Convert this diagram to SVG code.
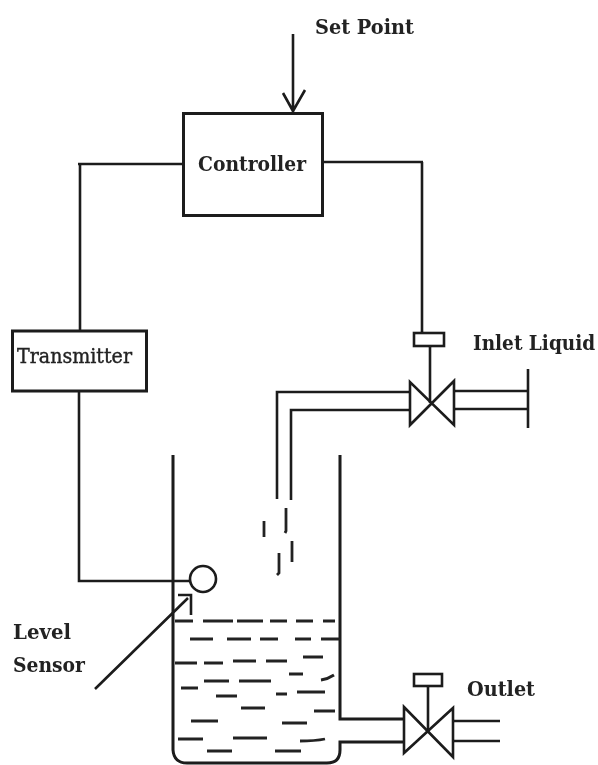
<svg xmlns="http://www.w3.org/2000/svg" width="598" height="765" viewBox="0 0 598 765">
<style>
.l{fill:none;stroke:#1a1a1a;stroke-width:2.600;stroke-linecap:butt;stroke-linejoin:miter}
.b{fill:#fff;stroke:#1a1a1a;stroke-width:3}
.d{fill:none;stroke:#222;stroke-width:2.800}
.t{font-family:"DejaVu Serif","Liberation Serif",serif;font-weight:700;fill:#222;font-size:21px}
</style>
<defs><filter id="soft" x="-2%" y="-2%" width="104%" height="104%"><feGaussianBlur stdDeviation="0.5"/></filter></defs>
<rect width="598" height="765" fill="#fff"/>
<g filter="url(#soft)">
<g id="connectors">
<path class="l" d="M293 34V112M283 93L293 111L305 90"/>
<path class="l" d="M183 164H78M80 164V331"/>
<path class="l" d="M323 162H423M422 162V332"/>
<path class="l" d="M79 391V581H191"/>
<path class="l" d="M95 689L188 598M178 595H191V615"/>
</g>
<g id="controller">
<rect class="b" x="183.500" y="113.500" width="139" height="102"/>
<text class="t" x="198" y="171" textLength="108" lengthAdjust="spacingAndGlyphs">Controller</text>
</g>
<g id="set-point"><text class="t" x="315" y="34" textLength="99" lengthAdjust="spacingAndGlyphs">Set Point</text></g>
<g id="transmitter">
<rect class="b" x="12.500" y="331" width="134" height="60"/>
<text class="t" style="font-weight:400;font-size:20px;stroke:#222;stroke-width:.4" x="17" y="363" textLength="115" lengthAdjust="spacingAndGlyphs">Transmitter</text>
</g>
<g id="level-sensor">
<circle class="l" cx="203" cy="579" r="13"/>
<text class="t" x="13" y="639" textLength="58" lengthAdjust="spacingAndGlyphs">Level</text>
<text class="t" x="13" y="672" textLength="72" lengthAdjust="spacingAndGlyphs">Sensor</text>
</g>
<g id="inlet-valve">
<path class="l" d="M277 499V392H410M291 500V410H410"/>
<path class="l" d="M454 391H527M454 409H527M528 369V428"/>
<rect class="l" x="414" y="333" width="30" height="13"/>
<path class="l" d="M430 346V403"/>
<path class="l" d="M410 382V425L454 381V425Z"/>
<text class="t" style="font-size:18.500px" transform="translate(473 350) scale(1 1.140)">Inlet Liquid</text>
</g>
<g id="tank">
<path class="l" style="stroke-width:3" d="M173 455V750Q174 763 187 763H327Q340 763 340 750V742H403M340 455V719H403"/>
</g>
<g id="liquid">
<path class="d" style="stroke-width:3.200" d="M175 621H193M203 621H233M237 621H263M270 621H287M296 621H313M323 621H335M190 639H213M227 639H251M260 639H278M295 639H311M321 639H340"/>
<path class="d" d="M175 663H197M204 663H223M233 661H256M266 661H287M303 657H323M289 674H303M321 680Q328 679 334 675M204 681H229M239 681H271M181 688H198M216 696H237M276 694H287M297 692H325M241 708H265M314 711H335M191 721H218M282 723H307M178 739H203M233 738H267M300 741Q315 741 325 739M207 751H232M275 751H301"/>
<path class="d" d="M264 521V537M286 508V531L285 533M292 541V562M279 553V573L277 575"/>
</g>
<g id="outlet-valve">
<rect class="l" x="414" y="674" width="28" height="12"/>
<path class="l" d="M428 686V732"/>
<path class="l" d="M404 707V753L453 708V757Z"/>
<path class="l" d="M453 721H500M453 741H500"/>
<text class="t" x="467" y="696" textLength="68" lengthAdjust="spacingAndGlyphs">Outlet</text>
</g>
</g>
</svg>
